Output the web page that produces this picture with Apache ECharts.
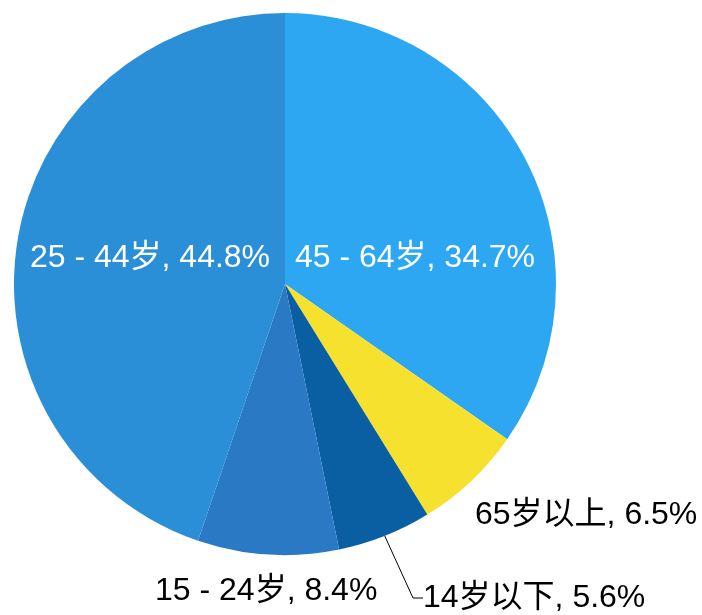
<!DOCTYPE html>
<html>
<head>
<meta charset="utf-8">
<script src="https://cdn.jsdelivr.net/npm/echarts@6/dist/echarts.min.js"></script>
<style>
  html, body { margin: 0; padding: 0; background: #fff; }
  #chart { width: 702px; height: 615px; }
</style>
</head>
<body>
<div id="chart"></div>
<script>
// age groups, clockwise from 12 o'clock
const categories = ['45 - 64岁', '65岁以上', '14岁以下', '15 - 24岁', '25 - 44岁']
const shares = [34.7, 6.5, 5.6, 8.4, 44.8]

const colors = ['#2ea7f2', '#f5e12e', '#0a5fa3', '#2979c4', '#2b8fd8']
// where each label sits: [x, y, align, color]
const labelSpots = [
  [415, 258, 'center', '#fff'],
  [475, 515, 'left', '#000'],
  [423, 598, 'left', '#000'],
  [155, 591, 'left', '#000'],
  [150, 258, 'center', '#fff']
]

const chart = echarts.init(document.getElementById('chart'))

chart.setOption({
  animation: false,
  series: [{
    type: 'pie',
    center: [285, 284],
    radius: 271,
    startAngle: 90,
    clockwise: true,
    data: categories.map((name, i) => ({
      name,
      value: shares[i],
      itemStyle: { color: colors[i] },
      label: { color: labelSpots[i][3] },
      labelLine: { show: i === 2 }
    })),
    label: {
      show: true,
      position: 'outside',
      formatter: '{b}, {c}%',
      fontFamily: '"Liberation Sans", Arial, "Noto Sans CJK SC", sans-serif',
      fontSize: 32,
      overflow: 'none'
    },
    labelLine: {
      length: 60,
      length2: 10,
      lineStyle: { color: '#000', width: 1 }
    },
    labelLayout: params => {
      const s = labelSpots[params.dataIndex]
      return { x: s[0], y: s[1], align: s[2], verticalAlign: 'middle' }
    },
    emphasis: { disabled: true }
  }]
})
</script>
</body>
</html>
